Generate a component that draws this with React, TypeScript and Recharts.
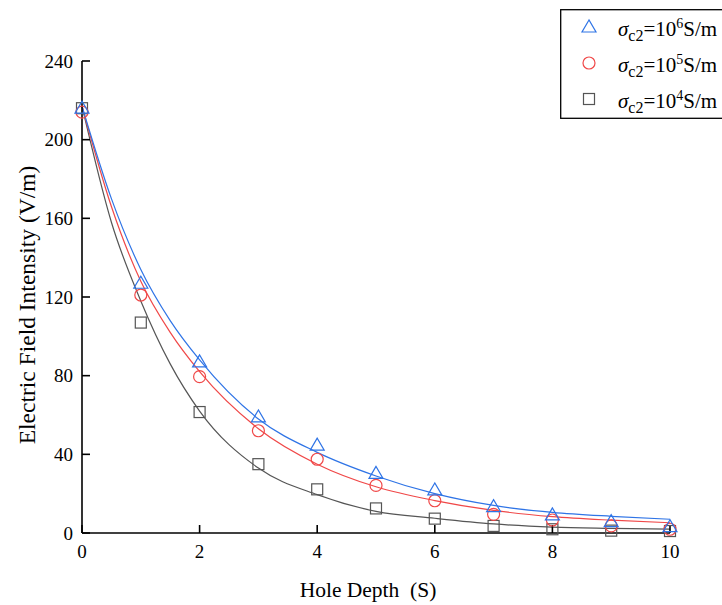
import React from "react";
import {
  ComposedChart,
  Line,
  Scatter,
  XAxis,
  YAxis,
  Label,
} from "recharts";

const depths = [0, 1, 2, 3, 4, 5, 6, 7, 8, 9, 10];
const obs6 = [216, 127, 87, 59, 44.7, 30.3, 21.9, 13.4, 9.2, 5.8, 3.2];
const obs5 = [214, 121, 79.5, 52, 37.5, 24.2, 16.4, 9.5, 6.6, 3.6, 1.9];
const obs4 = [216, 107, 61.5, 35, 22.2, 12.5, 7.3, 3.6, 1.9, 1.2, 1.0];

const fitDepths = [0, 0.5, 1, 1.5, 2, 3, 4, 5, 6, 7, 8, 9, 10];
const fit6 = [217, 170, 134, 108, 88, 58, 41, 29, 20, 14, 10.5, 8.5, 7];
const fit5 = [217, 166, 128, 102, 82, 53, 35, 23.5, 16.5, 11.5, 8.3, 6.5, 5.2];
const fit4 = [217, 158, 118, 86, 62, 33, 19.5, 11, 7.5, 4.6, 3, 2.4, 2];

const xTicks = [0, 2, 4, 6, 8, 10];
const yTicks = [0, 40, 80, 120, 160, 200, 240];

const BLUE = "#2f74e6";
const RED = "#f04848";
const GRAY = "#555555";
const FONT = "'Liberation Serif', 'Times New Roman', serif";

const fitData = fitDepths.map((x, i) => ({ x, f6: fit6[i], f5: fit5[i], f4: fit4[i] }));
const pts6 = depths.map((x, i) => ({ x, y: obs6[i] }));
const pts5 = depths.map((x, i) => ({ x, y: obs5[i] }));
const pts4 = depths.map((x, i) => ({ x, y: obs4[i] }));

const Tri = (p: any) => (
  <polygon
    points={`${p.cx},${p.cy - 7} ${p.cx - 7},${p.cy + 5} ${p.cx + 7},${p.cy + 5}`}
    fill="none"
    stroke={BLUE}
    strokeWidth={1.2}
  />
);
const Circ = (p: any) => (
  <circle cx={p.cx} cy={p.cy} r={6} fill="none" stroke={RED} strokeWidth={1.2} />
);
const Sq = (p: any) => (
  <rect x={p.cx - 5.5} y={p.cy - 5.5} width={11} height={11} fill="none" stroke={GRAY} strokeWidth={1.2} />
);

const legendItems = [
  { exp: "6", marker: "tri" },
  { exp: "5", marker: "circ" },
  { exp: "4", marker: "sq" },
];

const LegendBox = () => (
  <svg
    width={175}
    height={110}
    style={{ position: "absolute", left: 560, top: 9 }}
  >
    <rect x={0.7} y={0.7} width={180} height={108.6} fill="#fff" stroke="#000" strokeWidth={1.3} />
    {legendItems.map((it, i) => {
      const cy = 18 + i * 36;
      return (
        <g key={it.exp}>
          {it.marker === "tri" && <Tri cx={29} cy={cy} />}
          {it.marker === "circ" && <Circ cx={29} cy={cy} />}
          {it.marker === "sq" && <Sq cx={29} cy={cy} />}
          <text x={58} y={cy + 9} fontFamily={FONT} fontSize={21} fill="#000">
            <tspan fontStyle="italic">σ</tspan>
            <tspan fontSize={16} dy={5}>c2</tspan>
            <tspan dy={-5}>=10</tspan>
            <tspan fontSize={14} dy={-8}>{it.exp}</tspan>
            <tspan dy={8}>S/m</tspan>
          </text>
        </g>
      );
    })}
  </svg>
);

export default function App() {
  return (
    <div style={{ position: "absolute", left: 0, top: 0, width: 722, height: 605, background: "#fff", overflow: "hidden" }}>
      <ComposedChart
        width={722}
        height={605}
        data={fitData}
        margin={{ top: 61, right: 52, bottom: 0, left: 0 }}
      >
        <XAxis
          dataKey="x"
          type="number"
          domain={[0, 10]}
          ticks={xTicks}
          height={72}
          tickSize={-8}
          tickMargin={20}
          axisLine={{ stroke: "#000", strokeWidth: 1.6 }}
          tickLine={{ stroke: "#000", strokeWidth: 1.6 }}
          tick={{ fill: "#000", fontSize: 19, fontFamily: FONT }}
        >
          <Label
            content={() => (
              <text x={368} y={597} textAnchor="middle" fontFamily={FONT} fontSize={21.5} fill="#000">
                Hole Depth{"\u00a0 "}(S)
              </text>
            )}
          />
        </XAxis>
        <YAxis
          type="number"
          domain={[0, 240]}
          ticks={yTicks}
          width={82}
          tickSize={-8}
          tickMargin={17}
          axisLine={{ stroke: "#000", strokeWidth: 1.6 }}
          tickLine={{ stroke: "#000", strokeWidth: 1.6 }}
          tick={{ fill: "#000", fontSize: 19, fontFamily: FONT }}
        >
          <Label
            content={() => (
              <text
                x={27}
                y={305}
                textAnchor="middle"
                dominantBaseline="central"
                transform="rotate(-90 27 305)"
                fontFamily={FONT}
                fontSize={23.5}
                fill="#000"
              >
                Electric Field Intensity (V/m)
              </text>
            )}
          />
        </YAxis>
        <Line dataKey="f4" type="monotone" stroke={GRAY} strokeWidth={1.2} dot={false} isAnimationActive={false} />
        <Line dataKey="f5" type="monotone" stroke={RED} strokeWidth={1.2} dot={false} isAnimationActive={false} />
        <Line dataKey="f6" type="monotone" stroke={BLUE} strokeWidth={1.2} dot={false} isAnimationActive={false} />
        <Scatter data={pts4} dataKey="y" shape={<Sq />} isAnimationActive={false} />
        <Scatter data={pts5} dataKey="y" shape={<Circ />} isAnimationActive={false} />
        <Scatter data={pts6} dataKey="y" shape={<Tri />} isAnimationActive={false} />
      </ComposedChart>
      <LegendBox />
    </div>
  );
}
